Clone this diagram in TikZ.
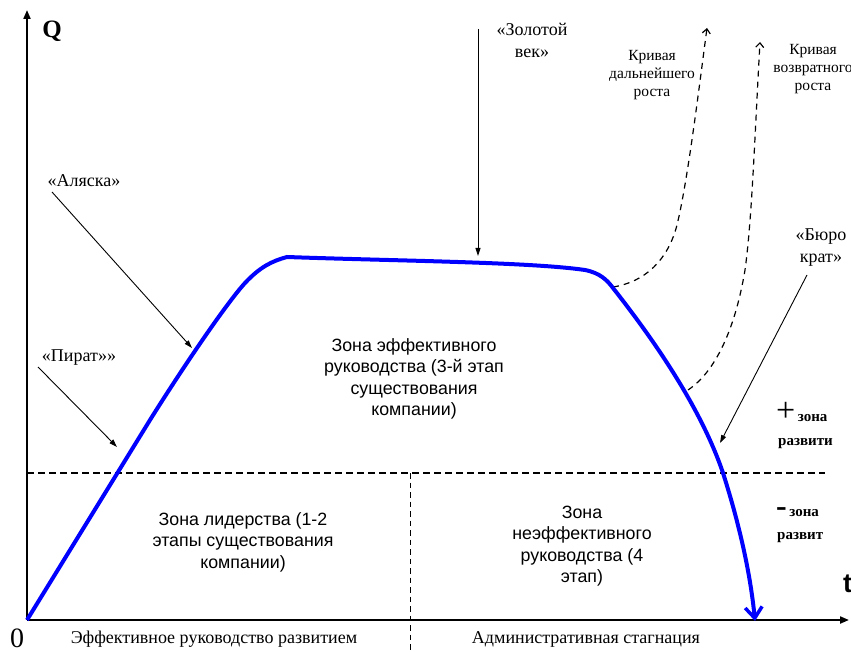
\documentclass[tikz,border=0pt]{standalone}
\usepackage{fontspec}
\setmainfont{Liberation Serif}
\newfontfamily\arialf{Liberation Sans}
\usetikzlibrary{arrows.meta}
\tikzset{
  lbl/.style={inner sep=0pt, align=center, font=\fontsize{18}{22}\selectfont},
  smalllbl/.style={inner sep=0pt, align=center, font=\fontsize{15.5}{18}\selectfont},
  zonelbl/.style={inner sep=0pt, align=center, font=\arialf\fontsize{17.8}{21.5}\selectfont},
  axis/.style={line width=2pt, -{Triangle[length=9pt,width=7pt]}},
  pointer/.style={line width=0.9pt, -{Triangle[length=8pt,width=5pt]}},
  lifecurve/.style={line width=4pt, draw={rgb,255:red,0;green,0;blue,255}, -{Straight Barb[length=11pt,width=17pt,line width=3.5pt]}},
  altcurve/.style={line width=1.2pt, dash pattern=on 6pt off 5pt, -{Straight Barb[length=4.5pt,width=8pt,line width=1.2pt]}},
  zoneline/.style={line width=1.2pt, dash pattern=on 6.5pt off 4.5pt},
  boldlbl/.style={inner sep=0pt, align=left, font=\bfseries\fontsize{15}{22}\selectfont}
}
\begin{document}
\begin{tikzpicture}[x=1pt,y=-1pt]
\useasboundingbox (0,0) rectangle (851,652);
% axes
\coordinate (O) at (27,620);
\coordinate (ytop) at (27,10);
\coordinate (xend) at (849,620);
\draw[axis] (O) -- (ytop);
\draw[axis] (O) -- (xend);
\node[inner sep=0pt, font=\bfseries\fontsize{25}{25}\selectfont] (Q) at (52,31) {Q};
\node[inner sep=0pt, anchor=west, font=\arialf\bfseries\fontsize{27}{27}\selectfont] (t) at (843,584) {t};
\node[inner sep=0pt, font=\fontsize{28}{28}\selectfont] (zero) at (17,638) {0};
% zone lines
\coordinate (hl) at (27,473);
\coordinate (hr) at (825,473);
\coordinate (vt) at (410,473);
\coordinate (vb) at (410,650);
\draw[zoneline] (hl) -- (hr);
\draw[zoneline, line width=1pt, dash pattern=on 5.5pt off 4pt] (vt) -- (vb);
% alternative curves
\coordinate (b1) at (613,287);
\coordinate (b1m) at (677,225);
\coordinate (b1e) at (707,28);
\draw[altcurve] (b1) .. controls (645,282) and (668,260) .. (b1m) .. controls (688,180) and (700,80) .. (b1e);
\coordinate (b2) at (688,390);
\coordinate (b2m) at (745,270);
\coordinate (b2e) at (760,42);
\draw[altcurve] (b2) .. controls (715,372) and (735,330) .. (b2m) .. controls (752,220) and (755,130) .. (b2e);
% life curve
\coordinate (c1) at (150,420);
\coordinate (c2) at (245,283);
\coordinate (peak) at (287,257);
\coordinate (c3) at (585,270);
\coordinate (c4) at (613,288);
\coordinate (c5) at (723,473);
\coordinate (cend) at (755,621);
\draw[lifecurve] (O) -- (c1) .. controls (180,372) and (225,305) .. (c2)
  .. controls (260,267) and (272,261) .. (peak)
  .. controls (400,261) and (530,262) .. (c3)
  .. controls (600,273) and (607,280) .. (c4)
  .. controls (650,335) and (700,405) .. (c5)
  .. controls (738,520) and (750,570) .. (cend);
% labels with pointers
\node[lbl] (alaska) at (84,181) {«Аляска»};
\coordinate (alaskaS) at (52,192);
\coordinate (alaskaT) at (192,348);
\draw[pointer] (alaskaS) -- (alaskaT);
\node[lbl] (pirat) at (79,358) {«Пират»»};
\coordinate (piratS) at (38,367);
\coordinate (piratT) at (117,447);
\draw[pointer] (piratS) -- (piratT);
\node[lbl] (gold) at (532,40) {«Золотой\\век»};
\coordinate (goldS) at (478,29);
\coordinate (goldT) at (478,256);
\draw[pointer] (goldS) -- (goldT);
\node[lbl] (buro) at (821,248) {«Бюро\\крат»};
\coordinate (buroS) at (807,275);
\coordinate (buroT) at (720,443);
\draw[pointer] (buroS) -- (buroT);
\node[smalllbl] (k1) at (652,75) {Кривая\\дальнейшего\\роста};
\node[smalllbl] (k2) at (813,69) {Кривая\\возвратного\\роста};
% zones
\node[zonelbl] (z3) at (414,379) {Зона эффективного\\руководства (3-й этап\\существования\\компании)};
\node[zonelbl] (z12) at (243,542) {Зона лидерства (1-2\\этапы существования\\компании)};
\node[zonelbl] (z4) at (582,546) {Зона\\неэффективного\\руководства (4\\этап)};
% plus / minus zone
\node[boldlbl, anchor=base west] (plus) at (776,421) {{\fontsize{34}{34}\selectfont\mdseries +}\,зона};
\node[boldlbl, anchor=base west] (plus2) at (778,445) {развити};
\node[boldlbl, anchor=base west] (minus) at (776,516) {{\fontsize{32}{32}\selectfont -}\,зона};
\node[boldlbl, anchor=base west] (minus2) at (777,539) {развит};
% bottom labels
\node[lbl] (eff) at (214,639) {Эффективное руководство развитием};
\node[lbl] (adm) at (586,639) {Административная стагнация};
\end{tikzpicture}
\end{document}
